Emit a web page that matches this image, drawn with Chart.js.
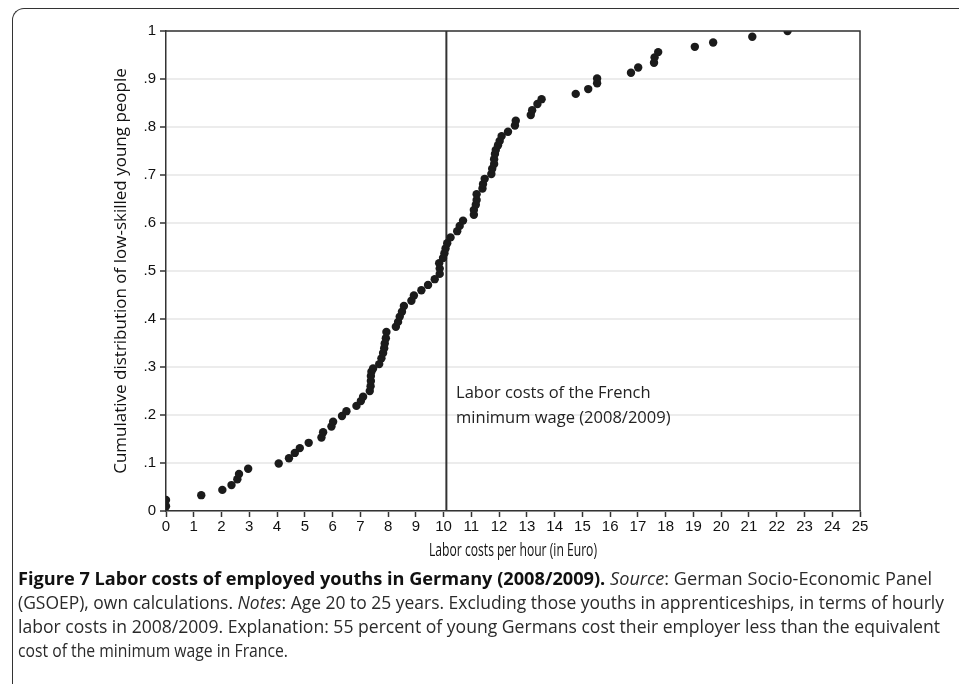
<!DOCTYPE html>
<html>
<head>
<meta charset="utf-8">
<script src="https://cdn.jsdelivr.net/npm/chart.js@4"></script>
<style>
  body { margin: 0; background: #fff; }
  #frame {
    position: absolute; left: 12px; top: 8px; width: 960px; height: 700px;
    border-left: 1.5px solid #333; border-top: 1.5px solid #333;
    border-top-left-radius: 12px;
  }
  #wrap { position: absolute; left: 0; top: 0; width: 959px; height: 570px; }
  #caption {
    position: absolute; left: 18px; top: 566px;
    font-family: "Open Sans", sans-serif;
    font-size: 18px; line-height: 24px; color: #2a2a2a; white-space: nowrap;
  }
  #caption div { height: 24px; }
  #caption span { display: inline-block; transform-origin: 0 0; }
  #caption b { color: #111; }
</style>
</head>
<body>
<div id="frame"></div>
<div id="wrap"><canvas id="chart"></canvas></div>
<div id="caption">
  <div><span data-w="914"><b>Figure 7 Labor costs of employed youths in Germany (2008/2009).</b> <i>Source</i>: German Socio-Economic Panel</span></div>
  <div><span data-w="926">(GSOEP), own calculations. <i>Notes</i>: Age 20 to 25 years. Excluding those youths in apprenticeships, in terms of hourly</span></div>
  <div><span data-w="922">labor costs in 2008/2009. Explanation: 55 percent of young Germans cost their employer less than the equivalent</span></div>
  <div><span data-w="270">cost of the minimum wage in France.</span></div>
</div>
<script>
// labor cost per hour (Euro) of each youth, sorted
const laborCosts = [
  0, 0, 1.27, 2.03, 2.36, 2.57, 2.63, 2.96, 4.06, 4.43,
  4.64, 4.82, 5.14, 5.60, 5.66, 5.96, 6.02, 6.34, 6.50, 6.86,
  7.02, 7.10, 7.34, 7.37, 7.38, 7.38, 7.40, 7.46, 7.68, 7.76,
  7.82, 7.86, 7.88, 7.92, 7.94, 8.28, 8.36, 8.42, 8.50, 8.57,
  8.84, 8.93, 9.20, 9.44, 9.68, 9.86, 9.86, 9.84, 9.98, 10.03,
  10.07, 10.13, 10.25, 10.49, 10.58, 10.70, 11.09, 11.09, 11.16, 11.19,
  11.19, 11.40, 11.42, 11.48, 11.72, 11.75, 11.82, 11.82, 11.85, 11.88,
  11.96, 12.02, 12.09, 12.32, 12.57, 12.60, 13.14, 13.19, 13.38, 13.53,
  14.76, 15.21, 15.53, 15.53, 16.75, 17.01, 17.58, 17.60, 17.73, 19.05,
  19.71, 21.12, 22.39
];
// cumulative share
const cumShare = [
  0.010, 0.023, 0.033, 0.044, 0.054, 0.066, 0.077, 0.088, 0.099, 0.110,
  0.121, 0.131, 0.142, 0.153, 0.164, 0.176, 0.186, 0.198, 0.208, 0.219,
  0.229, 0.238, 0.250, 0.260, 0.271, 0.281, 0.290, 0.297, 0.306, 0.318,
  0.329, 0.339, 0.349, 0.360, 0.373, 0.384, 0.394, 0.405, 0.415, 0.427,
  0.438, 0.449, 0.460, 0.471, 0.483, 0.494, 0.505, 0.516, 0.527, 0.537,
  0.547, 0.558, 0.570, 0.583, 0.594, 0.605, 0.617, 0.627, 0.638, 0.648,
  0.660, 0.672, 0.681, 0.692, 0.702, 0.713, 0.723, 0.733, 0.744, 0.752,
  0.762, 0.771, 0.781, 0.790, 0.803, 0.813, 0.825, 0.835, 0.848, 0.858,
  0.869, 0.879, 0.891, 0.901, 0.913, 0.924, 0.934, 0.945, 0.956, 0.967,
  0.976, 0.988, 1.000
];
const frenchMinWage = 10.1;
const annotationLines = ['Labor costs of the French', 'minimum wage (2008/2009)'];
const annotationPos = { x: 10.45, y: [0.246, 0.194] };
const xTitle = 'Labor costs per hour (in Euro)';

const points = laborCosts.map((x, i) => ({ x: x, y: cumShare[i] }));

// squeeze each caption line to the width it has in the figure
document.querySelectorAll('#caption span[data-w]').forEach(s => {
  const w = s.getBoundingClientRect().width;
  s.style.transform = 'scaleX(' + (s.dataset.w / w) + ')';
});

const frameAndNote = {
  id: 'frameAndNote',
  afterDraw(chart) {
    const ctx = chart.ctx;
    const a = chart.chartArea;
    const xs = chart.scales.x, ys = chart.scales.y;
    ctx.save();
    ctx.strokeStyle = '#333';
    ctx.lineWidth = 1.5;
    ctx.beginPath();
    ctx.moveTo(a.left, a.top);
    ctx.lineTo(a.right, a.top);
    ctx.lineTo(a.right, a.bottom);
    ctx.stroke();

    ctx.fillStyle = '#222';
    ctx.font = '16.5px "Open Sans"';
    ctx.textBaseline = 'middle';
    annotationLines.forEach((t, i) => {
      ctx.fillText(t, xs.getPixelForValue(annotationPos.x), ys.getPixelForValue(annotationPos.y[i]));
    });

    // condensed x axis title
    ctx.font = '17.5px "Open Sans"';
    ctx.fillStyle = '#111';
    ctx.textAlign = 'center';
    const w = ctx.measureText(xTitle).width;
    ctx.translate((a.left + a.right) / 2, a.bottom + 40);
    ctx.scale(168 / w, 1);
    ctx.fillText(xTitle, 0, 0);
    ctx.restore();
  }
};

const data = {
  datasets: [
    {
      data: points,
      pointRadius: 4.2,
      pointHoverRadius: 4.2,
      backgroundColor: '#1b1b1b',
      borderWidth: 0
    },
    {
      type: 'line',
      data: [{ x: frenchMinWage, y: 0 }, { x: frenchMinWage, y: 1 }],
      borderColor: '#333',
      borderWidth: 2,
      pointRadius: 0
    }
  ]
};

const options = {
  responsive: true,
  maintainAspectRatio: false,
  animation: false,
  layout: { padding: { left: 108, top: 31, right: 99, bottom: 0 } },
  plugins: { legend: { display: false }, tooltip: { enabled: false } },
  scales: {
    x: {
      type: 'linear', min: 0, max: 25,
      afterFit: s => { s.height = 59; },
      ticks: { stepSize: 1, color: '#111', padding: 1, font: { family: '"Liberation Sans", Arial', size: 15 }, maxRotation: 0, autoSkip: false },
      grid: { drawOnChartArea: false, tickColor: '#333', tickLength: 6, tickWidth: 1.5 },
      border: { color: '#333', width: 1.5 }
    },
    y: {
      min: 0, max: 1,
      afterFit: s => { s.width = 58; },
      ticks: {
        stepSize: 0.1, color: '#111', padding: 4,
        font: { family: '"Liberation Sans", Arial', size: 15 },
        callback: v => v === 0 ? '0' : v === 1 ? '1' : '.' + Math.round(v * 10)
      },
      grid: { color: '#ececec', lineWidth: 2, tickColor: '#333', tickLength: 6, tickWidth: 1.5 },
      border: { color: '#333', width: 1.5 },
      title: { display: true, text: 'Cumulative distribution of low-skilled young people', color: '#111', padding: { top: 3, bottom: 3 }, font: { family: '"Open Sans"', size: 17 } }
    }
  }
};

new Chart(document.getElementById('chart'), { type: 'scatter', data: data, options: options, plugins: [frameAndNote] });
</script>
</body>
</html>
